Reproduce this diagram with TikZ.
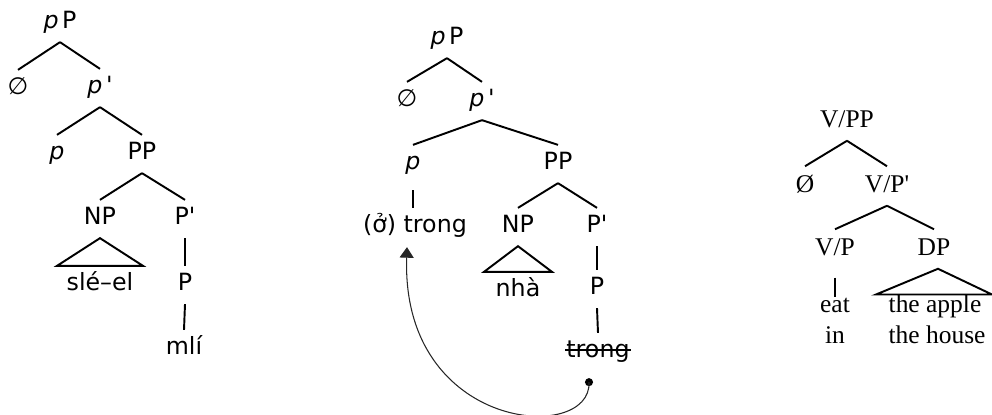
\documentclass[tikz,border=0pt]{standalone}
\usepackage{fontspec}
\usetikzlibrary{arrows.meta,calc}
\newfontfamily\arbolsans{DejaVu Sans}
\newfontfamily\arbolserif{Liberation Serif}

\tikzset{
  etq/.style={font=\arbolsans\fontsize{13.5}{16}\selectfont, text height=10pt, text depth=3.4pt, inner sep=4pt},
  etqr/.style={font=\arbolserif\fontsize{14.5}{17.5}\selectfont, text height=10.5pt, text depth=3.6pt, inner sep=4pt},
  hoja/.style={etqr, inner sep=1pt},
  rama/.style={line width=1.1pt},
  mov/.style={line width=0.6pt, black!85, -{Triangle[width=8pt,length=6pt]}},
}

\begin{document}
\begin{tikzpicture}[x=0.02cm,y=-0.02cm]
	\useasboundingbox (0,0) rectangle (992,414);

	%Arbol de la izquierda
	\node[etq] (pP1) at (60,23) {{\itshape p}\hspace{2pt}P};
	\node[etq] (nul1) at (18,89) {∅};
	\node[etq] (pb1) at (100,88) {{\itshape p}\hspace{2pt}\textquotesingle};
	\node[etq] (p1) at (57,154) {\itshape p};
	\node[etq] (PP1) at (142,154) {PP};
	\node[etq] (NP1) at (100,219) {NP};
	\node[etq] (Pb1) at (185,219) {P\textquotesingle};
	\node[etq] (sle1) at (100,285) {slé–el};
	\node[etq] (P1) at (185,285) {P};
	\node[etq] (mli1) at (184,349) {mlí};

	\draw[rama] (pP1.south) -- (nul1.north);
	\draw[rama] (pP1.south) -- (pb1.north);
	\draw[rama] (pb1.south) -- (p1.north);
	\draw[rama] (pb1.south) -- (PP1.north);
	\draw[rama] (PP1.south) -- (NP1.north);
	\draw[rama] (PP1.south) -- (Pb1.north);
	\draw[rama] (NP1.south) -- ($(sle1.north)+(-43,0)$) -- ($(sle1.north)+(43,0)$) -- cycle;
	\draw[rama] (Pb1.south) -- (P1.north);
	\draw[rama] (P1.south) -- (mli1.north);

	%Arbol del centro
	\node[etq] (pP2) at (447,39) {{\itshape p}\hspace{2pt}P};
	\node[etq] (nul2) at (407,101) {∅};
	\node[etq] (pb2) at (482,101) {{\itshape p}\hspace{2pt}\textquotesingle};
	\node[etq] (p2) at (413,164) {\itshape p};
	\node[etq] (PP2) at (558,164) {PP};
	\node[etq] (trong2) at (415,227) {(ở) trong};
	\node[etq] (NP2) at (518,227) {NP};
	\node[etq] (Pb2) at (597,227) {P\textquotesingle};
	\node[etq] (nha2) at (518,291) {nhà};
	\node[etq] (P2) at (597,289) {P};
	\node[etq] (huella2) at (598,352) {trong};

	\draw[rama] (pP2.south) -- (nul2.north);
	\draw[rama] (pP2.south) -- (pb2.north);
	\draw[rama] (pb2.south) -- (p2.north);
	\draw[rama] (pb2.south) -- (PP2.north);
	\draw[rama, shorten <=4pt] (p2.south) -- (p2.south |- trong2.north);
	\draw[rama] (PP2.south) -- (NP2.north);
	\draw[rama] (PP2.south) -- (Pb2.north);
	\draw[rama] (NP2.south) -- ($(nha2.north)+(-34,0)$) -- ($(nha2.north)+(34,0)$) -- cycle;
	\draw[rama] (Pb2.south) -- (P2.north);
	\draw[rama] (P2.south) -- (huella2.north);
	%tachado de la copia baja
	\draw[line width=0.8pt] ($(huella2.west)+(6,-2)$) -- ($(huella2.east)+(-6,-2)$);

	%movimiento
	\coordinate (ini) at ($(huella2.south)+(-9,11)$);
	\coordinate (fin) at ($(trong2.south)+(-8,1)$);
	\fill (ini) circle (2.3pt);
	\draw[mov] (ini) .. controls +(3,62) and +(-6,185) .. (fin);

	%Arbol de la derecha
	\node[etqr] (VPP3) at (847,121) {V/PP};
	\node[etqr] (nul3) at (805,186) {Ø};
	\node[etqr] (VPb3) at (887,186) {V/P\textquotesingle};
	\node[etqr] (VP3) at (835,249) {V/P};
	\node[etqr] (DP3) at (934,249) {DP};
	\node[hoja] (eat3) at (835,306) {eat};
	\node[hoja] (in3) at (835,337) {in};
	\node[hoja] (apple3) at (935,306) {the apple};
	\node[hoja] (house3) at (937,337) {the house};

	\draw[rama] (VPP3.south) -- (nul3.north);
	\draw[rama] (VPP3.south) -- (VPb3.north);
	\draw[rama] (VPb3.south) -- (VP3.north);
	\draw[rama] (VPb3.south) -- (DP3.north);
	\draw[rama, shorten <=5pt, shorten >=-3pt] (VP3.south) -- (VP3.south |- eat3.north);
	\draw[rama] ($(DP3.south)+(4,0)$) -- ($(apple3.north)+(-59,3)$) -- ($(apple3.north)+(57,3)$) -- cycle;
\end{tikzpicture}
\end{document}
